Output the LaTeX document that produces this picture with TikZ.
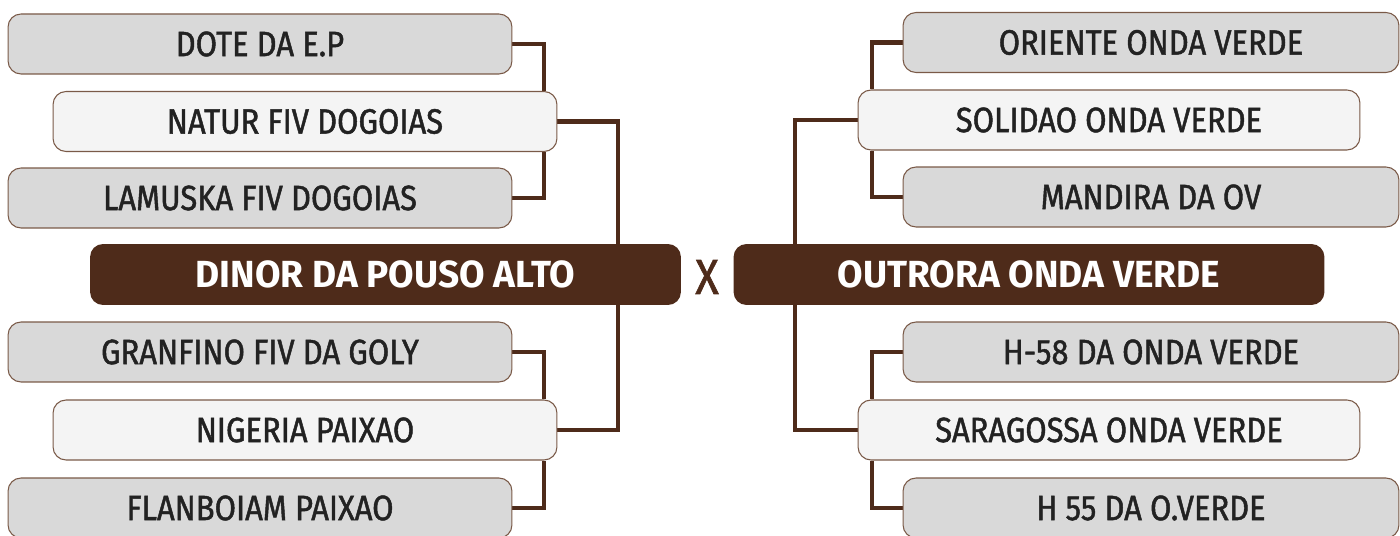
\documentclass[tikz,border=0pt]{standalone}
\usepackage{fontspec}
\setmainfont{Fira Sans}
\newfontfamily\boxfont{Fira Sans}[FakeStretch=0.88, FakeBold=1.3]
\newfontfamily\titlefont{Fira Sans}[FakeStretch=0.98]
\usetikzlibrary{positioning,backgrounds}
\definecolor{brownish}{HTML}{4E2B1A}
\definecolor{rimbrown}{HTML}{7A5A48}
\definecolor{greyfill}{HTML}{D9D9D9}
\definecolor{lightfill}{HTML}{F4F4F4}
\definecolor{inkgrey}{HTML}{222222}
\tikzset{
  box/.style={
    draw=rimbrown, line width=0.6pt, fill=greyfill, rounded corners=0.26cm,
    minimum width=10.08cm, minimum height=1.2cm, inner sep=0pt,
    font=\boxfont\fontsize{20}{22}\selectfont, text=inkgrey
  },
  mid/.style={box, fill=lightfill},
  main/.style={
    fill=brownish, rounded corners=0.26cm, minimum width=11.82cm,
    minimum height=1.22cm, inner sep=0pt,
    font=\titlefont\fontsize{21.5}{23}\selectfont\bfseries, text=white
  },
  link/.style={draw=brownish, line width=2.6pt}
}
\begin{document}
\begin{tikzpicture}[x=0.02cm, y=-0.02cm]
  \useasboundingbox (0,0) rectangle (1400,536);

  % --- left side -------------------------------------------------------
  \node[box] (dote) at (260,44) {DOTE DA E.P};
  \node[mid] (natur) at (305,121.5) {NATUR FIV DOGOIAS};
  \node[box] (lamuska) at (260,198) {LAMUSKA FIV DOGOIAS};
  \node[main] (dinor) at (385.5,274.5) {DINOR DA POUSO ALTO};
  \node[box] (granfino) at (260,352) {GRANFINO FIV DA GOLY};
  \node[mid] (nigeria) at (305,430) {NIGERIA PAIXAO};
  \node[box] (flanboiam) at (260,508) {FLANBOIAM PAIXAO};

  % --- right side ------------------------------------------------------
  \node[box, minimum width=9.92cm] (oriente) at (1151,42.5) {ORIENTE ONDA VERDE};
  \node[mid, minimum width=10.04cm] (solidao) at (1109,120) {SOLIDAO ONDA VERDE};
  \node[box, minimum width=9.92cm] (mandira) at (1151,197) {MANDIRA DA OV};
  \node[main] (outrora) at (1029,274.5) {OUTRORA ONDA VERDE};
  \node[box, minimum width=9.92cm] (h58) at (1151,352) {H-58 DA ONDA VERDE};
  \node[mid, minimum width=10.04cm] (saragossa) at (1109,430) {SARAGOSSA ONDA VERDE};
  \node[box, minimum width=9.92cm] (h55) at (1151,508) {H 55 DA O.VERDE};

  \node[font=\boxfont\fontsize{28}{30}\selectfont, text=brownish] (vs) at (707,277) {X};

  % --- connectors --------------------------------------------------------
  \begin{scope}[on background layer]
    \draw[link] (dote.east) -| (natur.north -| 544,0);
    \draw[link] (lamuska.east) -| (natur.south -| 544,0);
    \draw[link] (natur.east) -| (dinor.north -| 618,0);
    \draw[link] (granfino.east) -| (nigeria.north -| 544,0);
    \draw[link] (flanboiam.east) -| (nigeria.south -| 544,0);
    \draw[link] (nigeria.east) -| (dinor.south -| 618,0);

    \draw[link] (oriente.west) -| (solidao.north -| 872,0);
    \draw[link] (mandira.west) -| (solidao.south -| 872,0);
    \draw[link] (solidao.west) -| (outrora.north -| 795,0);
    \draw[link] (h58.west) -| (saragossa.north -| 872,0);
    \draw[link] (h55.west) -| (saragossa.south -| 872,0);
    \draw[link] (saragossa.west) -| (outrora.south -| 795,0);
  \end{scope}
\end{tikzpicture}
\end{document}
